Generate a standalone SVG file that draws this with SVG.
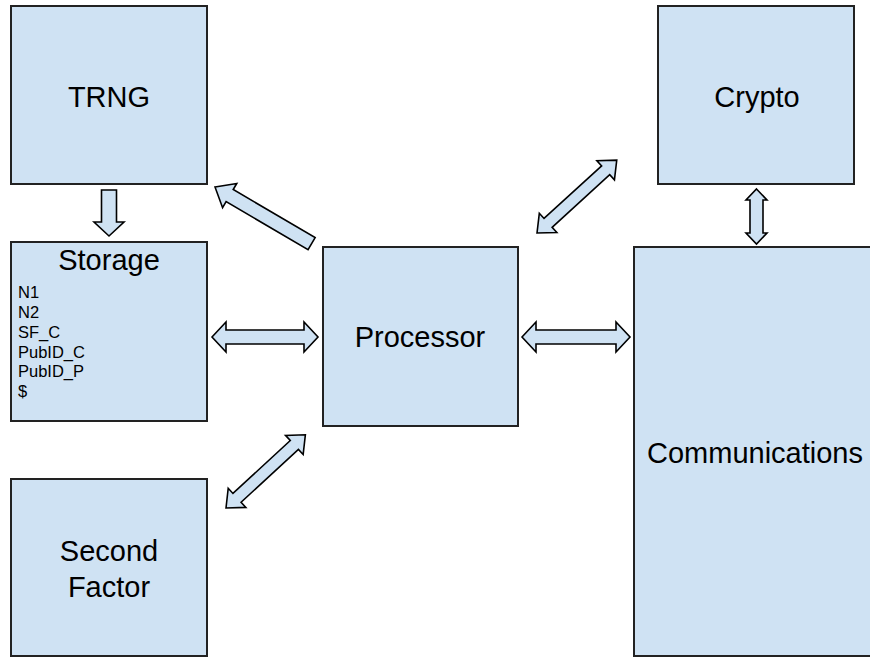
<svg xmlns="http://www.w3.org/2000/svg" width="870" height="657" viewBox="0 0 870 657">
<style>
.box{fill:#cfe2f3;stroke:#222;stroke-width:2}
.arr{fill:#cfe2f3;stroke:#000;stroke-width:1.6;stroke-linejoin:miter}
.t{font-family:"Liberation Sans",Arial,sans-serif;font-size:29px;fill:#000;text-anchor:middle}
.s{font-family:"Liberation Sans",Arial,sans-serif;font-size:16.5px;fill:#000}
</style>
<rect width="870" height="657" fill="#fff"/>
<g id="trng"><rect class="box" x="11" y="6" width="196" height="178"/><text class="t" x="109" y="107">TRNG</text></g>
<g id="storage"><rect class="box" x="11" y="242" width="196" height="179"/><text class="t" x="109" y="270">Storage</text>
<text class="s" x="18" y="298">N1</text><text class="s" x="18" y="318">N2</text><text class="s" x="18" y="338">SF_C</text><text class="s" x="18" y="358">PubID_C</text><text class="s" x="18" y="377">PubID_P</text><text class="s" x="18" y="397">$</text></g>
<g id="second-factor"><rect class="box" x="11" y="479" width="196" height="177"/><text class="t" x="109" y="561">Second</text><text class="t" x="109" y="597">Factor</text></g>
<g id="processor"><rect class="box" x="323" y="247" width="195" height="179"/><text class="t" x="420" y="347">Processor</text></g>
<g id="crypto"><rect class="box" x="658" y="6" width="196" height="178"/><text class="t" x="757" y="107">Crypto</text></g>
<g id="communications"><rect class="box" x="634" y="247" width="250" height="409"/><text class="t" x="647" y="463" style="text-anchor:start">Communications</text></g>
<g id="connectors">
<path class="arr" d="M101.5,190 H116.5 V222 H124 L109,236 L94,222 H101.5 Z"/>
<path class="arr" transform="translate(215,187) rotate(30.4)" d="M0,0 L17,-14 L17,-7 L112,-7 L112,7 L17,7 L17,14 Z"/>
<path class="arr" transform="translate(212,337)" d="M0,0 L14,-15 L14,-7 L92,-7 L92,-15 L106,0 L92,15 L92,7 L14,7 L14,15 Z"/>
<path class="arr" transform="translate(522,337)" d="M0,0 L14,-15 L14,-7 L94,-7 L94,-15 L108,0 L94,15 L94,7 L14,7 L14,15 Z"/>
<path class="arr" transform="translate(537,233) rotate(-42.4)" d="M0,0 L15,-13 L15,-6 L93,-6 L93,-13 L108,0 L93,13 L93,6 L15,6 L15,13 Z"/>
<path class="arr" transform="translate(226,508) rotate(-42.7)" d="M0,0 L15,-13 L15,-6 L93,-6 L93,-13 L108,0 L93,13 L93,6 L15,6 L15,13 Z"/>
<path class="arr" transform="translate(756.5,189) rotate(90)" d="M0,0 L11,-10.5 L11,-6.5 L44,-6.5 L44,-10.5 L55,0 L44,10.5 L44,6.5 L11,6.5 L11,10.5 Z"/>
</g>
</svg>
